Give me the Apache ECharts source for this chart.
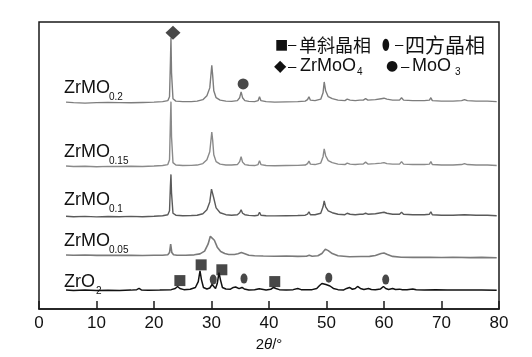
<!DOCTYPE html>
<html><head><meta charset="utf-8">
<script src="https://cdn.jsdelivr.net/npm/echarts@6/dist/echarts.min.js"></script>
<style>html,body{margin:0;padding:0;background:#fff}#c{width:532px;height:357px}</style>
</head><body><div id="c"></div>
<script>
// x ticks
const xTicks = [0,10,20,30,40,50,60,70,80];
// sample names
const sampleNames = ['ZrMO0.2','ZrMO0.15','ZrMO0.1','ZrMO0.05','ZrO2'];
// XRD patterns [2theta, offset intensity]
const zrmo02 = [[4.7,210.5],[6,210],[8,209.5],[10,210],[12,210.3],[14,210],[16,209.8],[18,210.2],[20,210.5],[21.5,211],[22.4,212],[22.7,216],[22.85,250],[22.95,276],[23.05,240],[23.3,214],[23.8,211.5],[25,211],[26.5,211],[27.5,211.5],[28.5,213],[29.2,217],[29.7,225],[30.05,248],[30.2,238],[30.4,222],[30.8,215],[31.5,212.5],[32.5,211.5],[33.5,211.3],[34.5,212],[34.9,215],[35.15,221],[35.4,215],[35.8,212],[36.5,211.3],[37.5,211],[38.1,212],[38.35,216],[38.6,212],[39.5,211],[41,210.5],[43,210.8],[45,211],[46.3,211.5],[46.7,213],[46.95,216],[47.2,212.5],[48,212],[49,213.5],[49.4,220],[49.6,231],[49.85,222],[50.3,216],[51,214],[52,212.5],[53.2,212],[53.6,213.5],[53.8,215],[54.1,212.5],[55,212],[55.8,212.5],[56.1,214],[56.4,212.5],[56.8,214],[57.2,212.5],[58.5,213],[59.5,214],[60,214.5],[60.5,213.5],[61.5,212.5],[62.7,212.5],[63.05,215],[63.4,212.5],[65,212],[67,212],[67.9,212.5],[68.15,215],[68.4,212],[70,211.5],[72,211.5],[73.5,212],[74,213],[74.5,212],[76,211.5],[78,211.5],[79.6,211]];
const zrmo015 = [[4.7,145.5],[6,145],[8,145.3],[10,144.8],[12,145.2],[14,145],[16,145.3],[18,145],[20,145.5],[21.5,146],[22.4,147],[22.7,152],[22.85,190],[22.95,211],[23.05,175],[23.3,149],[23.8,146.5],[25,146],[26.5,146.2],[27.5,146.5],[28.5,148],[29.2,152],[29.7,160],[30.05,180],[30.2,172],[30.4,157],[30.8,150],[31.5,147.5],[32.5,146.5],[33.5,146.5],[34.5,147],[34.9,150],[35.15,155],[35.4,149.5],[35.8,147],[36.5,146.3],[37.5,146],[38.1,147],[38.35,151],[38.6,147],[39.5,146],[41,145.8],[43,146],[45,146.2],[46.3,146.5],[46.7,148],[46.95,150.5],[47.2,147.5],[48,147],[49,148.5],[49.4,155],[49.6,163],[49.85,156],[50.3,151],[51,149],[52,147.5],[53.2,147],[53.6,148.5],[53.8,149.5],[54.1,147.5],[55,147],[55.8,147.5],[56.1,149.5],[56.4,147.5],[56.8,149.5],[57.2,147.5],[58.5,148],[59.5,148.5],[60,149],[60.5,148],[61.5,147.5],[62.7,147.5],[63.05,150],[63.4,147.5],[65,147],[67,147],[67.9,147.5],[68.15,150],[68.4,147],[70,146.5],[72,146.5],[73.5,147],[74,148],[74.5,147],[76,146.5],[78,146.5],[79.6,146]];
const zrmo01 = [[4.7,94.5],[6,94],[8,94.3],[10,93.8],[12,94.2],[14,94],[16,94.3],[18,94],[20,94.5],[21.5,95],[22.4,96],[22.7,100],[22.85,125],[22.95,137],[23.05,118],[23.3,97.5],[23.8,95.5],[25,95],[26.5,95.2],[27.5,95.5],[28.5,97],[29.2,101],[29.7,109],[30.0,122],[30.15,124],[30.35,114],[30.8,103],[31.5,98],[32.5,96],[33.5,95.5],[34.5,96],[34.9,98],[35.15,101],[35.4,97.5],[35.8,96],[36.5,95.3],[37.5,95],[38.1,95.5],[38.35,98.5],[38.6,95.5],[39.5,95],[41,94.8],[43,95],[45,95.2],[46.3,95.5],[46.7,96.5],[46.95,99],[47.2,96],[48,96],[49,97.5],[49.4,104],[49.6,110],[49.85,104],[50.3,100],[51,98],[52,96.5],[53.2,96],[53.6,97.5],[53.8,98.5],[54.1,96.5],[55,96],[55.8,96.5],[56.1,98],[56.4,96.5],[56.8,97.5],[57.2,96.5],[58.5,97],[59.5,98],[60,98.5],[60.5,97.5],[61.5,96.5],[62.7,96.5],[63.05,98.5],[63.4,96.5],[65,96],[67,96],[67.9,96.5],[68.15,99],[68.4,96],[70,95.5],[72,95.5],[74,96],[76,95.5],[78,95.5],[79.6,95]];
const zrmo005 = [[4.7,55],[6,54.8],[8,55],[10,54.6],[12,54.8],[14,54.6],[16,54.8],[18,54.5],[20,54.7],[21.5,54.8],[22.4,55.3],[22.7,57.5],[22.9,66],[23.1,57.5],[23.4,55.2],[24,54.8],[25.5,54.8],[27,55.2],[28,56.2],[28.8,59],[29.4,66],[29.8,74],[30.1,76],[30.5,70],[31,63],[31.6,58.5],[32.3,56.5],[33,55.5],[34,55.5],[34.6,56.3],[35.2,57.5],[35.8,56.3],[36.5,54.8],[37.5,54.3],[39,54],[41,53.8],[43,54],[45,53.6],[46.5,53.8],[47,54.8],[47.5,53.8],[48.5,54.2],[49.2,56.5],[49.8,61],[50.3,59.5],[51,56.5],[52,54.2],[54,53.3],[56,53.5],[57.5,53.6],[58.5,54.5],[59.5,56.5],[60,57],[60.6,55.5],[61.5,53.6],[63,52.8],[65,52.6],[68,52.8],[70,52.5],[72,52.7],[75,52.4],[77,52.6],[79.6,52.3]];
const zro2 = [[4.7,19.5],[6,19],[8,19.3],[10,19],[12,19.2],[14,19],[16,19.3],[17,19.8],[17.4,21],[17.8,19.5],[19,19.2],[21,19.3],[23,19.8],[23.7,21],[24.1,23],[24.5,21],[25.2,19.8],[26.3,20.2],[27.2,22],[27.7,28],[28.0,39],[28.25,30],[28.6,22],[29.2,20.5],[29.7,21.5],[30.1,25],[30.35,23],[30.7,21],[31.0,26],[31.3,37],[31.55,30],[31.9,22],[32.5,20.5],[33.3,20.3],[33.8,22],[34.2,22.5],[34.5,21],[34.8,20.8],[35.3,22],[35.7,20.5],[36.5,19.5],[37.5,19.6],[38.3,20.8],[38.6,19.8],[39.5,19.5],[40.3,20.2],[40.8,22],[41.2,21],[41.8,19.8],[43,19.4],[44.2,19.8],[45,21],[45.6,19.8],[46.5,19.6],[47.5,19.8],[48.3,21],[48.8,24],[49.2,26],[49.5,24],[49.9,25],[50.2,27],[50.6,23.5],[51.2,21],[52,19.8],[53,19.5],[53.5,21],[54,22],[54.5,20.2],[55,21],[55.4,23],[55.9,21],[56.5,20],[57.3,21],[57.8,20],[58.5,19.8],[59.4,20.5],[59.9,23],[60.3,21],[60.8,20],[61.5,21],[62,20],[62.7,20.3],[63.2,19.6],[64,19.8],[65,20.4],[65.6,19.6],[67,19.4],[69,19.6],[71,19.3],[73,19.5],[75,19.3],[77,19.5],[79.6,19.2]];
// phase markers
const monoclinicMarks = [[24.5,29],[28.2,45],[31.8,40],[41.0,28]];
const tetragonalMarks = [[30.3,30],[35.65,31],[50.4,32],[60.3,30]];
const zrmoo4Marks = [[23.3,281]];
const moo3Marks = [[35.5,229]];

const FONT = '"Liberation Sans", Arial, sans-serif';
const CJK = '"Noto Sans CJK SC", sans-serif';
const SYM = '"DejaVu Sans", sans-serif';
const chart = echarts.init(document.getElementById('c'), null, {renderer:'canvas'});

function txt(x, yMid, s, size, font, extra){
  return Object.assign({type:'text', x:x, y:yMid, z:100,
    style:{text:s, font: size+'px '+(font||FONT), fill:'#111', verticalAlign:'middle', align:'left'}}, extra||{});
}
const labelPos = [[64,88.5,109],[64,152,109],[64,200,109],[64,241.5,109],[64,282.5,96]];
const subs = ['0.2','0.15','0.1','0.05','2'];
const mains = ['ZrMO','ZrMO','ZrMO','ZrMO','ZrO'];
const graphics = [];
for(let i=0;i<5;i++){
  graphics.push(txt(labelPos[i][0], labelPos[i][1], mains[i], 18));
  graphics.push(txt(labelPos[i][2], labelPos[i][1]+9, subs[i], 10));
}
// legend texts
graphics.push(txt(275, 45, '■', 14, SYM));
graphics.push(txt(288, 45, '–', 15, FONT));
graphics.push(txt(299, 45, '单斜晶相', 18, CJK));
graphics.push(txt(382, 45, '●', 16, SYM, {scaleX:0.55}));
graphics.push(txt(395, 45, '–', 15, FONT));
graphics.push(txt(405, 45, '四方晶相', 20, CJK));
graphics.push(txt(274, 66.5, '◆', 16, SYM));
graphics.push(txt(288, 66.5, '–', 15, FONT));
graphics.push(txt(300, 66.5, 'ZrMoO', 18));
graphics.push(txt(357, 72, '4', 10));
graphics.push(txt(386, 66.5, '●', 14, SYM));
graphics.push(txt(401, 66.5, '–', 15, FONT));
graphics.push(txt(412, 66.5, 'MoO', 18));
graphics.push(txt(455, 72, '3', 10));

function line(data, color, w){
  return {type:'line', data:data, symbol:'none', showSymbol:false, smooth:false, silent:true,
    lineStyle:{color:color, width:w}, z:2};
}
function marks(data, symbol, size){
  return {type:'scatter', data:data, symbol:symbol, symbolSize:size, silent:true,
    itemStyle:{color:'#1a1a1a'}, z:5};
}
chart.setOption({
  animation:false,
  backgroundColor:'#fff',
  grid:{left:39, right:33, top:22, bottom:43, show:true, borderColor:'#1a1a1a', borderWidth:1.5},
  xAxis:{type:'value', min:0, max:80, interval:10,
    axisLine:{show:true, lineStyle:{color:'#1a1a1a', width:1.5}},
    axisTick:{show:true, inside:true, length:8, lineStyle:{color:'#1a1a1a', width:1.5}},
    axisLabel:{color:'#111', fontSize:17, fontFamily:FONT, margin:6,
      formatter:function(v){return xTicks.indexOf(v)>=0?String(v):'';}},
    splitLine:{show:false},
    name:'{n|2}{i|θ}{n|/°}', nameLocation:'middle', nameGap:18,
    nameTextStyle:{rich:{n:{fontSize:15, fontFamily:FONT, color:'#111'}, i:{fontSize:15, fontFamily:FONT, fontStyle:'italic', color:'#111'}}}
  },
  yAxis:{type:'value', min:0, max:292, show:false},
  series:[
    line(zrmo02,'#7d7d7d',1.4),
    line(zrmo015,'#8a8a8a',1.4),
    line(zrmo01,'#5a5a5a',1.4),
    line(zrmo005,'#7a7a7a',1.6),
    line(zro2,'#111111',1.5),
    marks(monoclinicMarks,'rect',[11,11]),
    marks(tetragonalMarks,'circle',[7,10]),
    marks(zrmoo4Marks,'diamond',[15,14]),
    marks(moo3Marks,'circle',[11,11])
  ],
  graphic: graphics
});
</script></body></html>
